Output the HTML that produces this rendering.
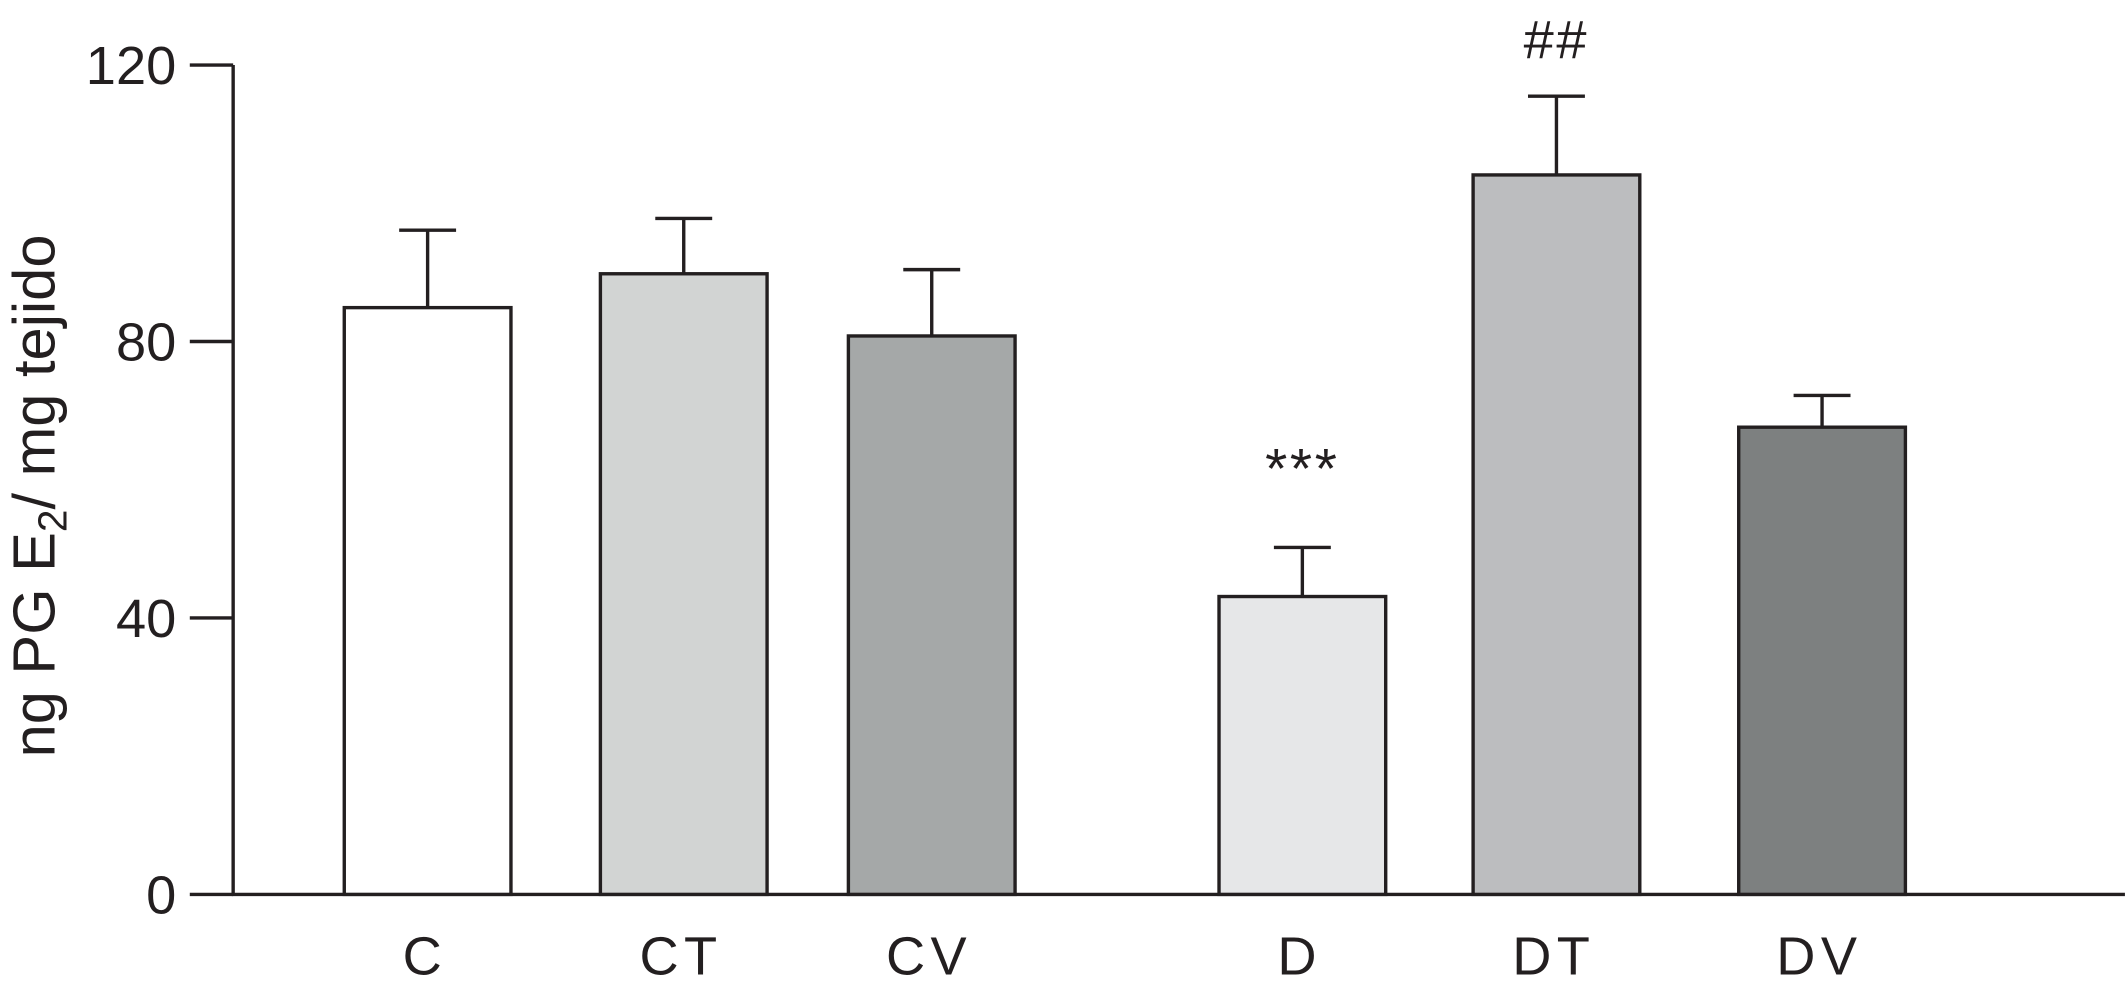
<!DOCTYPE html>
<html><head><meta charset="utf-8"><style>
html,body{margin:0;padding:0;background:#fff;}
svg{display:block;}
text{font-family:"Liberation Sans",Arial,sans-serif;fill:#231f20;}
</style></head><body>
<svg id="chart" width="2125" height="986" viewBox="0 0 1568 727.6" xmlns="http://www.w3.org/2000/svg">
<g id="axes"></g><g id="bars"></g>
<text transform="translate(40,366) rotate(-90)" text-anchor="middle" font-size="44">ng PG E<tspan font-size="30" dy="9">2</tspan><tspan dy="-9">/ mg tejido</tspan></text>
</svg>
<script>
const categories = ["C","CT","CV","D","DT","DV"];
const values = [84.9, 89.8, 80.8, 43.1, 104.1, 67.6];
const errors = [11.2, 8.0, 9.6, 7.1, 11.4, 4.6];
const yTicks = [0, 40, 80, 120];
const annotations = ["", "", "", "***", "##", ""];
const colors = ["#ffffff","#d2d4d3","#a5a8a8","#e6e7e8","#bcbdbf","#7d8080"];
const barCenters = [315.5, 504.5, 687.5, 961, 1148.5, 1344.5];

const NS="http://www.w3.org/2000/svg";
const y0=660, yTop=48, vmax=120;
const y = v => y0 - (v/vmax)*(y0-yTop);
const bw = 123;
const axes=document.getElementById('axes'), bars=document.getElementById('bars');
function mk(tag, attrs, parent){const e=document.createElementNS(NS,tag);for(const k in attrs)e.setAttribute(k,attrs[k]);parent.appendChild(e);return e;}

let l=mk('line',{x1:172,y1:y(120),x2:172,y2:y0+1,stroke:"#231f20","stroke-width":2.5},axes);


l=mk('line',{x1:171,y1:y0,x2:1568,y2:y0,stroke:"#231f20","stroke-width":2.5},axes);


yTicks.forEach(t=>{
  const tk=mk('line',{x1:140,y1:y(t),x2:172,y2:y(t),stroke:"#231f20","stroke-width":2.5},axes);
  
  
  const tx=mk('text',{x:130,y:y(t)+14,"text-anchor":"end","font-size":40},axes);
  tx.textContent=t;
  
  
});
categories.forEach((c,i)=>{
  const cx=barCenters[i], top=y(values[i]), et=y(values[i]+errors[i]);
  const eb=mk('path',{d:`M${cx} ${top} V${et} M${cx-21} ${et} H${cx+21}`,stroke:"#231f20","stroke-width":2.5,fill:"none"},bars);
  
  
  const r=mk('rect',{x:cx-bw/2,y:top,width:bw,height:y0-top,fill:colors[i],stroke:"#231f20","stroke-width":2.5},bars);
  
  
  const lb=mk('text',{x:cx-2,y:719,"text-anchor":"middle","font-size":40,"letter-spacing":"4"},bars);
  lb.textContent=c;
  
  
  if(annotations[i]){
    const a=mk('text',{x:cx,y:et-(annotations[i]==="***"?44:28),"text-anchor":"middle","font-size":annotations[i]==="***"?42:40,"letter-spacing":"2"},bars);
    a.textContent=annotations[i];
    
    
  }
});
</script>
</body></html>
